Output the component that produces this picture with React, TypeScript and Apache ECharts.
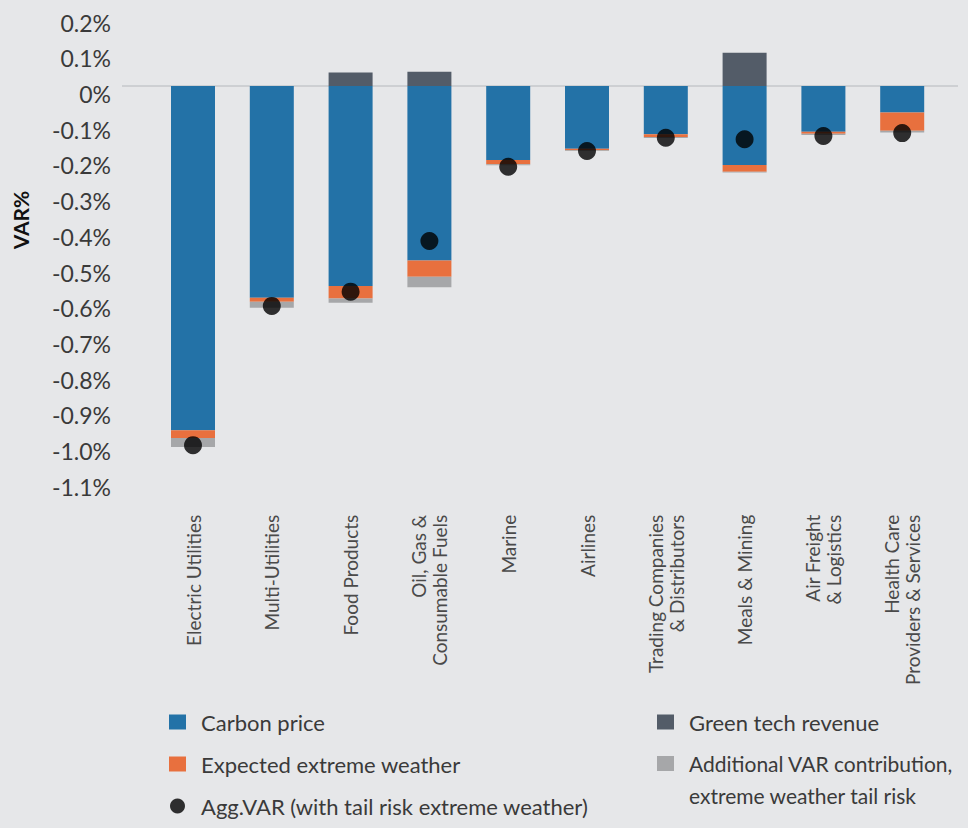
import React, { useEffect, useRef } from 'react';
import * as echarts from 'echarts';

const categories = [
  'Electric Utilities',
  'Multi-Utilities',
  'Food Products',
  'Oil, Gas &\nConsumable Fuels',
  'Marine',
  'Airlines',
  'Trading Companies\n& Distributors',
  'Meals & Mining',
  'Air Freight\n& Logistics',
  'Health Care\nProviders & Services',
];
const carbonPrice = [-0.964, -0.593, -0.56, -0.489, -0.207, -0.176, -0.135, -0.221, -0.128, -0.074];
const expectedWeather = [-0.022, -0.011, -0.035, -0.045, -0.012, -0.004, -0.008, -0.019, -0.006, -0.051];
const tailRisk = [-0.025, -0.017, -0.012, -0.03, -0.003, -0.002, -0.003, -0.002, -0.003, -0.005];
const greenTech = [0, 0, 0.038, 0.04, 0, 0, 0, 0.093, 0, 0];
const aggVar = [-1.006, -0.616, -0.576, -0.434, -0.226, -0.182, -0.145, -0.149, -0.14, -0.132];

const NAMES = {
  carbon: 'Carbon price',
  weather: 'Expected extreme weather',
  agg: 'Agg.VAR (with tail risk extreme weather)',
  green: 'Green tech revenue',
  tail: 'Additional VAR contribution, extreme weather tail risk',
};

const FONT = 'Lato, "Open Sans", sans-serif';
const BG = '#e6e7e9';

export default function App() {
  const ref = useRef<HTMLDivElement>(null);
  useEffect(() => {
    if (!ref.current) return;
    const chart = echarts.init(ref.current, null, { renderer: 'svg' });
    const legendText = { fontFamily: FONT, fontSize: 22, color: '#3a3a3a', lineHeight: 22, padding: [0, 0, 0, 10] };
    chart.setOption({
      animation: false,
      backgroundColor: BG,
      grid: { left: 153.6, right: 26.4, top: 14.6, bottom: 349.3 },
      xAxis: {
        type: 'category',
        data: categories,
        axisLine: { show: false, onZero: false },
        axisTick: { show: false },
        axisLabel: {
          interval: 0,
          rotate: 90,
          margin: 36,
          fontFamily: FONT,
          fontSize: 19,
          lineHeight: 21,
          color: '#4a4a4a',
        },
      },
      yAxis: {
        type: 'value',
        min: -1.1,
        max: 0.2,
        interval: 0.1,
        axisLine: { show: false },
        axisTick: { show: false },
        splitLine: { show: false },
        axisLabel: {
          margin: 42.6,
          fontFamily: FONT,
          fontSize: 23,
          color: '#3a3a3a',
          verticalAlign: 'top',
          lineHeight: 16,
          formatter: (v: number) => (Math.abs(v) < 1e-9 ? '0%' : v.toFixed(1) + '%'),
        },
      },
      legend: [
        {
          orient: 'vertical',
          left: 169,
          top: 711,
          padding: 0,
          itemWidth: 17,
          itemHeight: 15,
          itemGap: 20,
          textStyle: legendText,
          data: [
            { name: NAMES.carbon, icon: 'rect' },
            { name: NAMES.weather, icon: 'rect' },
            { name: NAMES.agg, icon: 'circle' },
          ],
        },
        {
          orient: 'vertical',
          left: 657,
          top: 711,
          padding: 0,
          itemWidth: 17,
          itemHeight: 15,
          textStyle: legendText,
          data: [{ name: NAMES.green, icon: 'rect' }],
        },
        {
          orient: 'vertical',
          left: 657,
          top: 721,
          padding: 0,
          itemWidth: 17,
          itemHeight: 15,
          textStyle: {
            fontFamily: FONT,
            fontSize: 21,
            color: '#3a3a3a',
            padding: [0, 0, 0, 10],
            rich: {
              a: { fontFamily: FONT, fontSize: 21, color: '#3a3a3a', lineHeight: 32 },
              b: { fontFamily: FONT, fontSize: 21, lineHeight: 32 },
            },
          },
          formatter: (n: string) => {
            const parts = n.split(', ');
            return '{b| }\n{a|' + parts[0] + ',}\n{a|' + parts[1] + '}';
          },
          data: [{ name: NAMES.tail, icon: 'rect' }],
        },
      ],
      series: [
        { name: NAMES.carbon, type: 'bar', stack: 'v', barWidth: 44, data: carbonPrice, itemStyle: { color: '#2372a7' } },
        { name: NAMES.weather, type: 'bar', stack: 'v', barWidth: 44, data: expectedWeather, itemStyle: { color: '#e8703e' } },
        { name: NAMES.tail, type: 'bar', stack: 'v', barWidth: 44, data: tailRisk, itemStyle: { color: '#a6a7a9' } },
        { name: NAMES.green, type: 'bar', stack: 'v', barWidth: 44, data: greenTech, itemStyle: { color: '#535c68' } },
        {
          name: NAMES.agg,
          type: 'scatter',
          data: aggVar,
          symbol: 'circle',
          symbolSize: 18,
          itemStyle: { color: '#000' },
          z: 5,
        },
      ],
    });
    const y0 = chart.convertToPixel({ yAxisIndex: 0 }, 0) as number;
    chart.setOption({
      graphic: [
        {
          type: 'line',
          z: 0,
          shape: { x1: 122, y1: y0, x2: 958, y2: y0 },
          style: { stroke: '#b5b8bc', lineWidth: 1 },
        },
        {
          type: 'text',
          x: 20,
          y: 220,
          rotation: Math.PI / 2,
          style: {
            text: 'VAR%',
            fontFamily: FONT,
            fontSize: 21,
            fontWeight: 'bold',
            fill: '#111',
            align: 'center',
            verticalAlign: 'middle',
          },
        },
      ],
    });
    return () => chart.dispose();
  }, []);
  return (
    <div
      ref={ref}
      style={{ position: 'absolute', left: 0, top: 0, width: 968, height: 828, background: BG }}
    />
  );
}
